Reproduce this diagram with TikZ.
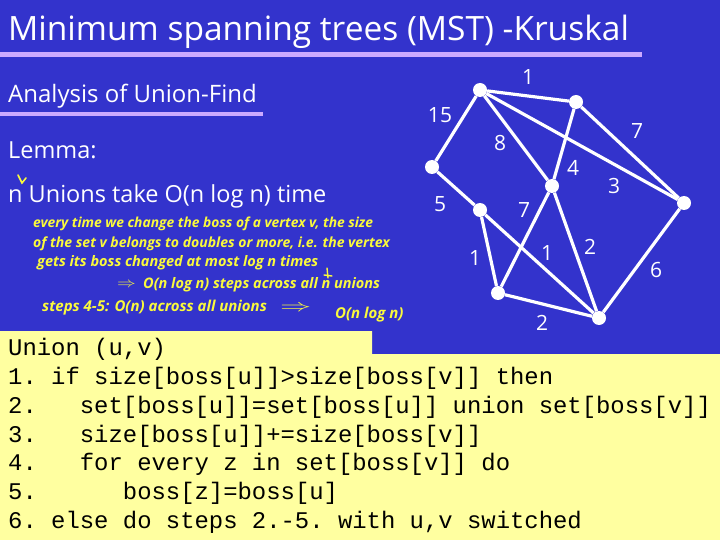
\documentclass[tikz,border=0pt]{standalone}
\usepackage{fontspec}
\setmainfont{Open Sans}
\setmonofont{Liberation Mono}
\definecolor{bgblue}{RGB}{51,51,204}
\definecolor{boxyellow}{RGB}{255,255,160}
\definecolor{lav}{RGB}{204,170,255}
\definecolor{hand}{RGB}{250,250,60}
\begin{document}
\begin{tikzpicture}[x=1pt,y=-1pt,
  vtx/.style={circle,fill=white,inner sep=0pt,minimum size=14pt},
  edge/.style={draw=white,line width=3.2pt},
  wlabel/.style={text=white,font=\fontsize{21}{21}\selectfont,inner sep=0pt},
  heading/.style={text=white,anchor=west,inner sep=0pt},
  handtxt/.style={text=hand,anchor=west,inner sep=0pt},
  codeline/.style={text=black,anchor=west,inner sep=0pt,font=\fontsize{23.9}{23.9}\selectfont\ttfamily}]
\fill[bgblue] (0,0) rectangle (720,540);
\useasboundingbox (0,0) rectangle (720,540);
% title
\node[heading,font=\fontsize{33.5}{33.5}\selectfont] (title) at (8,32) {Minimum spanning trees (MST) -Kruskal};
\fill[lav] (0,52) rectangle (642,57.5);
\node[heading,font=\fontsize{24}{24}\selectfont] (analysis) at (8,96) {Analysis of Union-Find};
\fill[lav] (0,112.5) rectangle (263,116.5);
\node[heading,font=\fontsize{23.5}{23.5}\selectfont] (lemma) at (8,150) {Lemma:};
\node[heading,font=\fontsize{23.5}{23.5}\selectfont] (claim) at (8,196) {n Unions take O(n log n) time};
% handwritten notes
\node[handtxt,font=\fontsize{13.8}{13.8}\selectfont\bfseries\itshape] (h1) at (33,224) {every time we change the boss of a vertex v, the size};
\node[handtxt,font=\fontsize{14}{14}\selectfont\bfseries\itshape] (h2) at (33,244) {of the set v belongs to doubles or more, i.e. the vertex};
\node[handtxt,font=\fontsize{14.5}{14.5}\selectfont\bfseries\itshape] (h3) at (37,263) {gets its boss changed at most log n times};
\node[handtxt,font=\fontsize{14}{14}\selectfont] (h4a) at (117,285) {\scalebox{1.3}[1]{$\Rightarrow$}};
\node[handtxt,font=\fontsize{14.5}{14.5}\selectfont\bfseries\itshape] (h4) at (143,285) {O(n log n) steps across all n unions};
\node[handtxt,font=\fontsize{15}{15}\selectfont\bfseries\itshape] (h5) at (42,308) {steps 4-5: O(n) across all unions};
\node[handtxt,font=\fontsize{16}{16}\selectfont] (h6) at (280,308) {\scalebox{1.8}[1]{$\Rightarrow$}};
\node[handtxt,font=\fontsize{15}{15}\selectfont\bfseries\itshape] (h7) at (335,315) {O(n log n)};
\draw[hand,line width=1.6pt,line cap=round] (18,175) -- (22,183) -- (26,178);
\draw[hand,line width=1.4pt,line cap=round] (327,268) -- (328,278) (324,275) -- (332,276);
% code box
\fill[boxyellow] (0,331) -- (372,331) -- (372,354) -- (720,354) -- (720,540) -- (0,540) -- cycle;
\node[codeline] (c0) at (8,349) {Union (u,v)};
\node[codeline] (c1) at (8,378) {1. if size[boss[u]]>size[boss[v]] then};
\node[codeline] (c2) at (8,407) {2.~~~set[boss[u]]=set[boss[u]] union set[boss[v]]};
\node[codeline] (c3) at (8,436) {3.~~~size[boss[u]]+=size[boss[v]]};
\node[codeline] (c4) at (8,464) {4.~~~for every z in set[boss[v]] do};
\node[codeline] (c5) at (8,493) {5.~~~~~~boss[z]=boss[u]};
\node[codeline] (c6) at (8,522) {6. else do steps 2.-5. with u,v switched};
% graph
\node[vtx] (A) at (480,90) {};
\node[vtx] (B) at (576,102) {};
\node[vtx] (C) at (432,167) {};
\node[vtx] (D) at (552,186) {};
\node[vtx] (E) at (684,203) {};
\node[vtx] (F) at (480,210) {};
\node[vtx] (G) at (498,293) {};
\node[vtx] (H) at (599,318) {};
\draw[edge] (A) -- (B);
\draw[edge] (A) -- (C);
\draw[edge] (A) -- (D);
\draw[edge] (A) -- (E);
\draw[edge] (B) -- (D);
\draw[edge] (B) -- (E);
\draw[edge] (C) -- (F);
\draw[edge] (F) -- (G);
\draw[edge] (F) -- (H);
\draw[edge] (D) -- (G);
\draw[edge] (D) -- (H);
\draw[edge] (G) -- (H);
\draw[edge] (E) -- (H);
\node[wlabel] (lAB) at (528,77) {1};
\node[wlabel] (lAC) at (440,115) {15};
\node[wlabel] (lAD) at (500,143) {8};
\node[wlabel] (lBE) at (637,131) {7};
\node[wlabel] (lBD) at (573,168) {4};
\node[wlabel] (lAE) at (614,186) {3};
\node[wlabel] (lCF) at (440,204) {5};
\node[wlabel] (lDG) at (524,210) {7};
\node[wlabel] (lFG) at (475,258) {1};
\node[wlabel] (lFH) at (547,253) {1};
\node[wlabel] (lDH) at (590,247) {2};
\node[wlabel] (lEH) at (656,270) {6};
\node[wlabel] (lGH) at (542,323) {2};
\end{tikzpicture}
\end{document}
